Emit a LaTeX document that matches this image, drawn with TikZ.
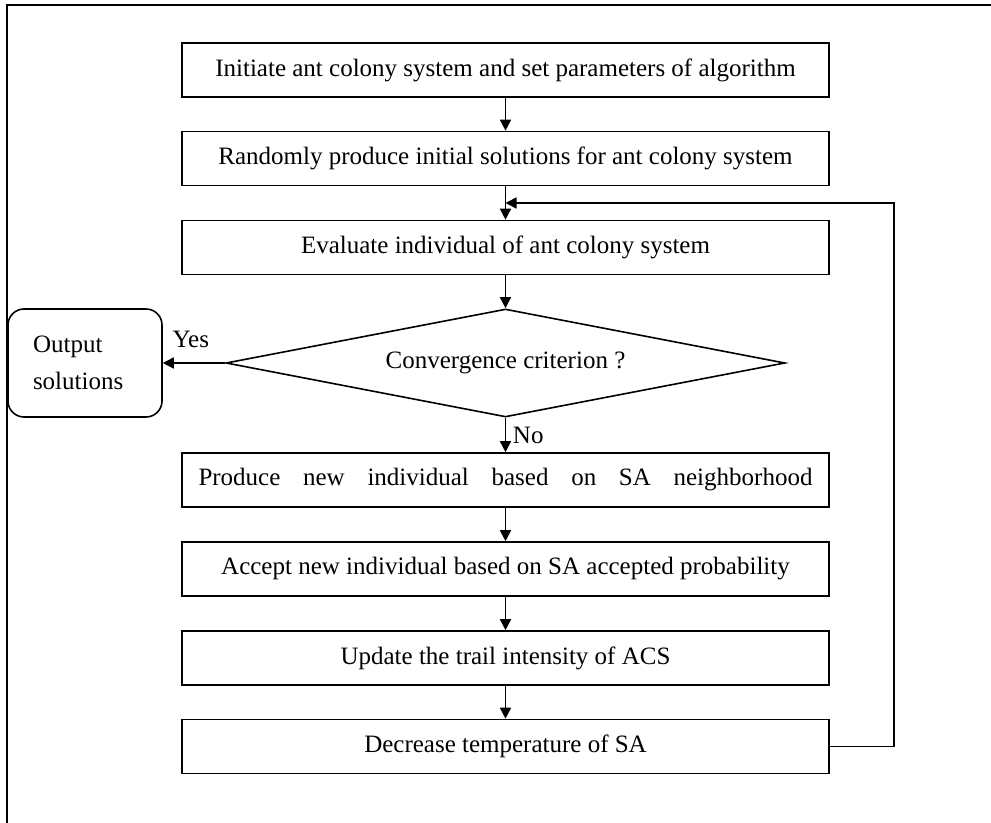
\documentclass[tikz,border=0pt]{standalone}
\usepackage{fontspec}
\setmainfont{Liberation Serif}
\usetikzlibrary{shapes.geometric,arrows.meta,calc}

\begin{document}
\begin{tikzpicture}[x=0.5pt,y=-0.5pt,
		every node/.style={font=\fontsize{12.5}{18.5}\selectfont},
		stepbox/.style={draw,line width=0.8pt,rectangle,minimum width=323.5pt,minimum height=27pt,inner sep=0pt},
		decision/.style={draw,line width=0.8pt,diamond,aspect=5.18,minimum width=279.5pt,minimum height=54pt,inner sep=0pt},
		terminal/.style={draw,line width=0.8pt,rectangle,rounded corners=8pt,minimum width=77pt,minimum height=54pt,text width=52pt,align=left,inner xsep=12.5pt},
		arrow/.style={-{Triangle[length=5.5pt,width=5.5pt]},line width=0.8pt}]
				% Page size and frame
				\useasboundingbox (0,0) rectangle (991,823);
				\draw[line width=0.8pt] (7,823) -- (7,5) -- (991,5);

				% Steps
				\node[stepbox] (init) at (505.5,70) {Initiate ant colony system and set parameters of algorithm};
				\node[stepbox] (random) at (505.5,158.5) {Randomly produce initial solutions for ant colony system};
				\node[stepbox] (evaluate) at (505.5,247.5) {Evaluate individual of ant colony system};
				\node[decision] (converge) at (505.5,363) {Convergence criterion ?};
				\node[terminal] (output) at (85,363) {Output solutions};
				\node[stepbox] (produce) at (505.5,480) {\makebox[307pt][s]{Produce new individual based on SA neighborhood}};
				\node[stepbox] (accept) at (505.5,569) {Accept new individual based on SA accepted probability};
				\node[stepbox] (update) at (505.5,658) {Update the trail intensity of ACS};
				\node[stepbox] (decrease) at (505.5,746.5) {Decrease temperature of SA};

				% Flow
				\draw[arrow] (init) -- (random);
				\draw[arrow] (random) -- (evaluate);
				\draw[arrow] (evaluate) -- (converge);
				\draw[arrow] (converge.west) -- (output.east) node[pos=0.55,above=4pt]{Yes};
				\draw[arrow] (converge.south) -- (produce.north) node[midway,right=0pt]{No};
				\draw[arrow] (produce) -- (accept);
				\draw[arrow] (accept) -- (update);
				\draw[arrow] (update) -- (decrease);

				% Loop back
				\coordinate (back) at ($(random.south)!0.5!(evaluate.north)$);
				\draw[arrow] (decrease.east) -- ++(64,0) |- (back);
\end{tikzpicture}
\end{document}
